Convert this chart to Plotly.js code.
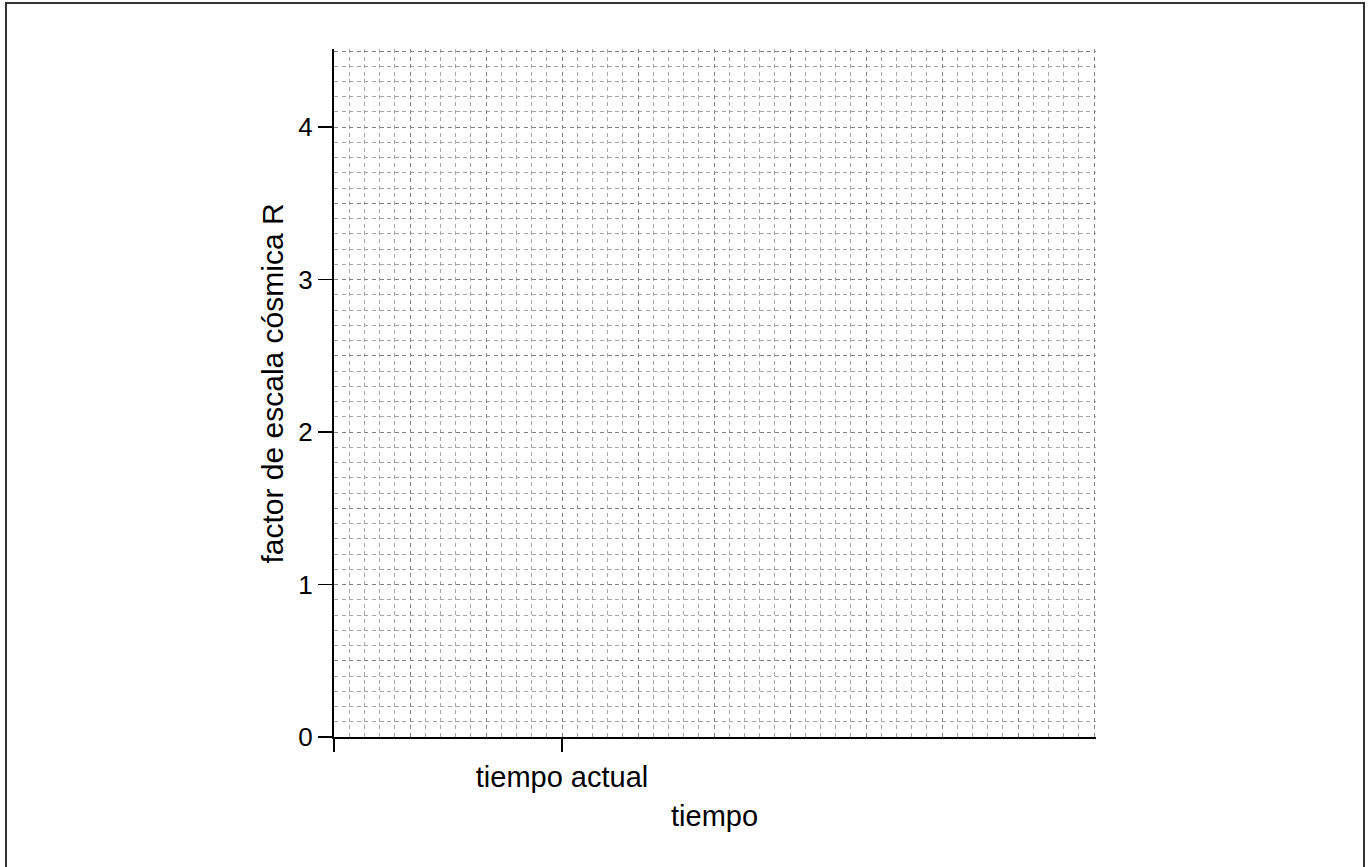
<!DOCTYPE html>
<html>
<head>
<meta charset="utf-8">
<script src="https://cdn.plot.ly/plotly-3.0.1.min.js"></script>
<style>
  html, body { margin: 0; padding: 0; background: #fff; overflow: hidden; }
  #chart { width: 1371px; height: 867px; }
  #frame { position: absolute; left: 5px; top: 2px; width: 1360px; height: 900px;
           border: 2px solid #333; box-sizing: border-box; pointer-events: none; }
</style>
</head>
<body>
<div id="chart"></div>
<div id="frame"></div>
<script>
// ---- chart values ----
const xRange = [0, 10];
const yRange = [0, 4.5];
const xTickVals = [0, 3];
const xTickText = ['', 'tiempo actual'];
const yTickVals = [0, 1, 2, 3, 4];
const yTickText = ['0', '1', '2', '3', '4'];
const xTitle = 'tiempo';
const yTitle = 'factor de escala cósmica R';

const FONT = 'Liberation Sans, Arial, sans-serif';
const majorGrid = '#828282';
const minorGrid = '#a6a6a6';
const dashPat = '4px,3.6px';

// plot area: 760 x 686 px for the data range; extend 2 px at far edges so the
// closing grid lines at x = 10 and y = 4.5 stay visible
const plotW = 760, plotH = 686, extra = 2;
const xR = [xRange[0], xRange[1] + extra * (xRange[1] - xRange[0]) / plotW];
const yR = [yRange[0], yRange[1] + extra * (yRange[1] - yRange[0]) / plotH];

const traces = [
  { x: [], y: [], xaxis: 'x', yaxis: 'y', type: 'scatter', mode: 'markers',
    showlegend: false, hoverinfo: 'skip' },
  { x: [], y: [], xaxis: 'x2', yaxis: 'y2', type: 'scatter', mode: 'markers',
    showlegend: false, hoverinfo: 'skip' }
];

const layout = {
  width: 1371, height: 867,
  margin: { l: 334, r: 277 - extra, t: 51 - extra, b: 130 },
  paper_bgcolor: '#fff', plot_bgcolor: '#fff',
  showlegend: false,
  font: { family: FONT, size: 28, color: '#000' },
  xaxis: {
    range: xR, dtick: 1, tick0: 0, showticklabels: false, ticks: '',
    showgrid: true, gridcolor: majorGrid, gridwidth: 1, griddash: dashPat,
    minor: { dtick: 0.2, tick0: 0, showgrid: true, gridcolor: minorGrid, gridwidth: 1, griddash: dashPat, ticks: '' },
    zeroline: false, showline: true, linecolor: '#000', linewidth: 2,
    fixedrange: true
  },
  yaxis: {
    range: yR, dtick: 0.5, tick0: 0, showticklabels: false, ticks: '',
    showgrid: true, gridcolor: majorGrid, gridwidth: 1, griddash: dashPat,
    minor: { dtick: 0.1, tick0: 0, showgrid: true, gridcolor: minorGrid, gridwidth: 1, griddash: dashPat, ticks: '' },
    zeroline: false, showline: true, linecolor: '#000', linewidth: 2,
    fixedrange: true
  },
  xaxis2: {
    overlaying: 'x', anchor: 'y2', side: 'bottom', range: xR,
    tickmode: 'array', tickvals: xTickVals, ticktext: xTickText,
    ticks: 'outside', ticklen: 14, tickwidth: 1.5, tickcolor: '#000',
    tickfont: { family: FONT, size: 29, color: '#000' },
    showgrid: false, zeroline: false, showline: false,
    fixedrange: true
  },
  yaxis2: {
    overlaying: 'y', anchor: 'x2', side: 'left', range: yR,
    tickmode: 'array', tickvals: yTickVals, ticktext: yTickText,
    ticks: 'outside', ticklen: 15, tickwidth: 1.5, tickcolor: '#000',
    tickfont: { family: FONT, size: 26, color: '#000' },
    showgrid: false, zeroline: false, showline: false,
    fixedrange: true
  },
  annotations: [
    { text: xTitle, xref: 'paper', yref: 'paper', x: 0.4987, y: -0.088,
      xanchor: 'center', yanchor: 'top', showarrow: false,
      font: { family: FONT, size: 29, color: '#000' } },
    { text: yTitle, xref: 'paper', yref: 'paper', x: -0.0803, y: 0.5135,
      xanchor: 'center', yanchor: 'middle', textangle: -90, showarrow: false,
      font: { family: FONT, size: 30, color: '#000' } }
  ]
};

Plotly.newPlot('chart', traces, layout, { displayModeBar: false, staticPlot: true });
</script>
</body>
</html>
